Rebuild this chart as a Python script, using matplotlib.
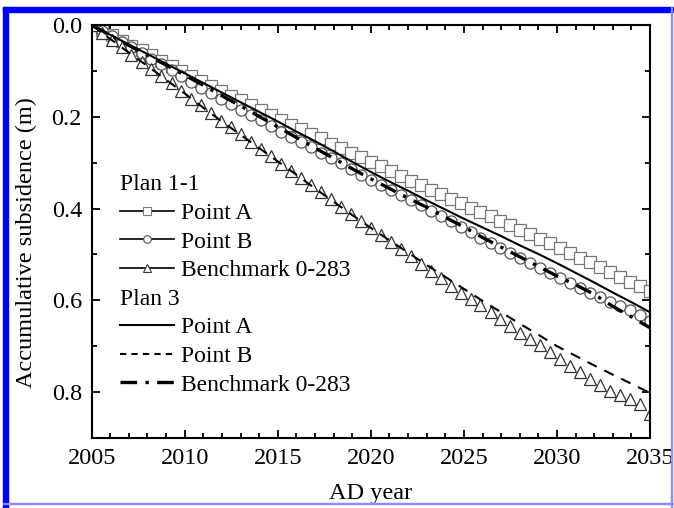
import numpy as np
import matplotlib
matplotlib.use("Agg")
import matplotlib.pyplot as plt
from matplotlib.lines import Line2D
from matplotlib.patches import Rectangle
from matplotlib.ticker import MultipleLocator

plt.rcParams['font.family'] = 'serif'
plt.rcParams['font.serif'] = ['Liberation Serif', 'DejaVu Serif']

# marker series (Plan 1-1)
yr_m = [2005.00, 2005.54, 2006.07, 2006.61, 2007.14, 2007.68, 2008.21, 2008.75, 2009.29, 2009.82,
        2010.36, 2010.89, 2011.43, 2011.96, 2012.50, 2013.04, 2013.57, 2014.11, 2014.64, 2015.18,
        2015.71, 2016.25, 2016.79, 2017.32, 2017.86, 2018.39, 2018.93, 2019.46, 2020.00, 2020.54,
        2021.07, 2021.61, 2022.14, 2022.68, 2023.21, 2023.75, 2024.29, 2024.82, 2025.36, 2025.89,
        2026.43, 2026.96, 2027.50, 2028.04, 2028.57, 2029.11, 2029.64, 2030.18, 2030.71, 2031.25,
        2031.79, 2032.32, 2032.86, 2033.39, 2033.93, 2034.46, 2035.00]
p11_A = [0.000, 0.011, 0.022, 0.034, 0.045, 0.055, 0.066, 0.077, 0.088, 0.100,
         0.111, 0.121, 0.132, 0.143, 0.154, 0.164, 0.175, 0.186, 0.196, 0.207,
         0.217, 0.227, 0.237, 0.247, 0.258, 0.268, 0.278, 0.288, 0.298, 0.308,
         0.318, 0.329, 0.339, 0.349, 0.359, 0.369, 0.378, 0.388, 0.398, 0.407,
         0.417, 0.427, 0.436, 0.446, 0.456, 0.466, 0.476, 0.486, 0.497, 0.507,
         0.517, 0.527, 0.538, 0.549, 0.559, 0.569, 0.580]
p11_B = [0.000, 0.012, 0.024, 0.036, 0.048, 0.061, 0.073, 0.085, 0.098, 0.111,
         0.124, 0.136, 0.148, 0.160, 0.172, 0.184, 0.195, 0.207, 0.219, 0.232,
         0.244, 0.255, 0.266, 0.278, 0.289, 0.301, 0.313, 0.326, 0.338, 0.349,
         0.360, 0.371, 0.382, 0.393, 0.405, 0.416, 0.428, 0.440, 0.452, 0.463,
         0.474, 0.485, 0.496, 0.507, 0.518, 0.530, 0.541, 0.552, 0.563, 0.573,
         0.583, 0.593, 0.603, 0.613, 0.622, 0.633, 0.644]
p11_BM = [0.000, 0.016, 0.032, 0.048, 0.064, 0.080, 0.096, 0.111, 0.127, 0.144,
          0.160, 0.175, 0.192, 0.210, 0.223, 0.238, 0.254, 0.269, 0.285, 0.302,
          0.317, 0.333, 0.348, 0.364, 0.380, 0.396, 0.412, 0.428, 0.443, 0.458,
          0.473, 0.488, 0.503, 0.520, 0.537, 0.552, 0.568, 0.585, 0.598, 0.611,
          0.626, 0.640, 0.656, 0.671, 0.685, 0.698, 0.713, 0.729, 0.743, 0.756,
          0.772, 0.785, 0.797, 0.806, 0.816, 0.826, 0.847]

# line series (Plan 3)
yr_l = list(range(2005, 2036))
p3_A = [0.000, 0.021, 0.042, 0.063, 0.084, 0.105, 0.126, 0.147, 0.168, 0.189, 0.210,
        0.232, 0.253, 0.275, 0.298, 0.320, 0.341, 0.361, 0.382, 0.402, 0.422,
        0.441, 0.460, 0.480, 0.499, 0.519, 0.540, 0.561, 0.583, 0.604, 0.626]
p3_B = [0.000, 0.030, 0.060, 0.089, 0.119, 0.149, 0.180, 0.210, 0.239, 0.268, 0.297,
        0.326, 0.356, 0.385, 0.414, 0.442, 0.469, 0.496, 0.523, 0.549, 0.575,
        0.601, 0.626, 0.651, 0.675, 0.700, 0.721, 0.742, 0.762, 0.782, 0.802]
p3_BM = [0.000, 0.022, 0.044, 0.066, 0.087, 0.109, 0.131, 0.154, 0.176, 0.199, 0.222,
         0.245, 0.268, 0.290, 0.313, 0.335, 0.356, 0.377, 0.397, 0.419, 0.440,
         0.463, 0.484, 0.505, 0.526, 0.547, 0.566, 0.587, 0.613, 0.636, 0.660]

fig = plt.figure(figsize=(6.74, 5.08), dpi=100)
ax = fig.add_axes([0.136, 0.138, 0.8284, 0.8124])

mk = dict(linestyle='none', mfc='white', mew=0.9, ms=8)
ax.plot(yr_m, p11_A, marker='s', mec='#777777', **mk)
ax.plot(yr_m, p11_B, marker='o', mec='#555555', **mk)
ax.plot(yr_m, p11_BM, marker='^', mec='#333333', **mk)
ax.plot(yr_l, p3_A, color='k', lw=1.5, ls='-')
ax.plot(yr_l, p3_B, color='k', lw=1.5, ls=(0, (5, 4)))
ax.plot(yr_l, p3_BM, color='k', lw=2.4, ls=(0, (5, 2.5, 1, 2.5)))

ax.set_xlim(2005, 2035)
ax.set_ylim(0.9, 0.0)
ax.set_xticks(range(2005, 2036, 5))
ax.set_yticks([0.0, 0.2, 0.4, 0.6, 0.8])
ax.set_yticklabels(['0.0', '0.2', '0.4', '0.6', '0.8'])
ax.xaxis.set_minor_locator(MultipleLocator(1))
ax.yaxis.set_minor_locator(MultipleLocator(0.1))
ax.tick_params(which='both', direction='in', top=True, right=True, width=1.3, labelsize=17.5)
ax.tick_params(which='major', length=6, pad=7)
ax.tick_params(which='minor', length=3.5)
for s in ax.spines.values():
    s.set_linewidth(1.5)
ax.set_xlabel('AD year', fontsize=17.5, labelpad=10)
ax.set_ylabel('Accumulative subsidence (m)', fontsize=17.5)
ax.yaxis.set_label_coords(-0.097, 0.474)

# legend with two group headers
hdr = Line2D([], [], linestyle='none')
lh = dict(color='k', lw=1.2, mfc='white', ms=5.5, mew=0.8)
handles = [hdr,
           Line2D([], [], marker='s', mec='#777777', **lh),
           Line2D([], [], marker='o', mec='#555555', **lh),
           Line2D([], [], marker='^', mec='#333333', **lh),
           hdr,
           Line2D([], [], color='k', lw=1.5, ls='-'),
           Line2D([], [], color='k', lw=1.5, ls=(0, (3, 2.5))),
           Line2D([], [], color='k', lw=2.4, ls=(0, (5, 2.5, 1, 2.5)))]
labels = ['Plan 1-1', 'Point A', 'Point B', 'Benchmark 0-283',
          'Plan 3', 'Point A', 'Point B', 'Benchmark 0-283']
leg = ax.legend(handles, labels, loc='upper left', bbox_to_anchor=(0.021, 0.68),
                frameon=False, fontsize=17, handlelength=2.3, handletextpad=0.3,
                labelspacing=0.3, borderpad=0.2)
items = leg._legend_handle_box.get_children()[0].get_children()
for i in (0, 4):
    items[i].get_children()[0].width = 0
    items[i].sep = 0

# blue page frame
fig.patches.append(Rectangle((3 / 674, 0), 5 / 674, 1 - 7 / 508, transform=fig.transFigure,
                             color='#0000ff', zorder=0))
fig.patches.append(Rectangle((3 / 674, 1 - 12 / 508), 1 - 3 / 674, 5 / 508, transform=fig.transFigure,
                             color='#0000ff', zorder=0))
fig.patches.append(Rectangle((671 / 674, 0), 1.2 / 674, 1 - 7 / 508, transform=fig.transFigure,
                             color='#8c8cff', zorder=0))
fig.patches.append(Rectangle((3 / 674, 4 / 508), 1 - 3 / 674, 1.2 / 508, transform=fig.transFigure,
                             color='#8c8cff', zorder=0))

fig.savefig('out.png', dpi=100)
